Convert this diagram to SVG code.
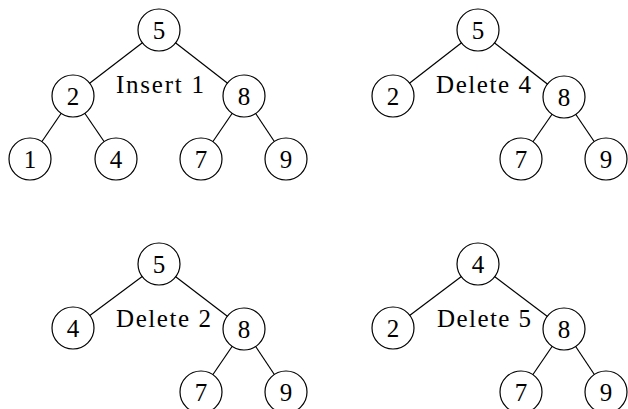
<svg xmlns="http://www.w3.org/2000/svg" width="628" height="409" viewBox="0 0 628 409">
<style>
.n circle{fill:#fff;stroke:#000;stroke-width:1.2}
.n text,.lbl{font-family:"Liberation Serif","Times New Roman",serif;font-size:25px;fill:#000}
.n text{text-anchor:middle}
.lbl{text-anchor:middle}
#edges line{stroke:#000;stroke-width:1.2}
</style>
<rect width="628" height="409" fill="#fff"/>
<g id="edges">
<line x1="159" y1="30" x2="73" y2="96"/>
<line x1="159" y1="30" x2="244" y2="96"/>
<line x1="73" y1="96" x2="30" y2="159"/>
<line x1="73" y1="96" x2="116" y2="159"/>
<line x1="244" y1="96" x2="201" y2="159"/>
<line x1="244" y1="96" x2="286" y2="159"/>
<line x1="478" y1="30" x2="393" y2="96"/>
<line x1="478" y1="30" x2="564" y2="97"/>
<line x1="564" y1="97" x2="521" y2="159"/>
<line x1="564" y1="97" x2="606" y2="159"/>
<line x1="159" y1="264" x2="73" y2="328"/>
<line x1="159" y1="264" x2="244" y2="329"/>
<line x1="244" y1="329" x2="201" y2="392"/>
<line x1="244" y1="329" x2="286" y2="392"/>
<line x1="478" y1="264" x2="393" y2="328"/>
<line x1="478" y1="264" x2="564" y2="329"/>
<line x1="564" y1="329" x2="521" y2="392"/>
<line x1="564" y1="329" x2="606" y2="392"/>
</g>
<g id="t1-5" class="n"><circle cx="159" cy="30" r="21"/><text x="159" y="38.5">5</text></g>
<g id="t1-2" class="n"><circle cx="73" cy="96" r="21"/><text x="73" y="104.5">2</text></g>
<g id="t1-8" class="n"><circle cx="244" cy="96" r="21"/><text x="244" y="104.5">8</text></g>
<g id="t1-1" class="n"><circle cx="30" cy="159" r="21"/><text x="30" y="167.5">1</text></g>
<g id="t1-4" class="n"><circle cx="116" cy="159" r="21"/><text x="116" y="167.5">4</text></g>
<g id="t1-7" class="n"><circle cx="201" cy="159" r="21"/><text x="201" y="167.5">7</text></g>
<g id="t1-9" class="n"><circle cx="286" cy="159" r="21"/><text x="286" y="167.5">9</text></g>
<text class="lbl" x="160" y="93" textLength="88">Insert 1</text>

<g id="t2-5" class="n"><circle cx="478" cy="30" r="21"/><text x="478" y="38.5">5</text></g>
<g id="t2-2" class="n"><circle cx="393" cy="96" r="21"/><text x="393" y="104.5">2</text></g>
<g id="t2-8" class="n"><circle cx="564" cy="97" r="21"/><text x="564" y="105.5">8</text></g>
<g id="t2-7" class="n"><circle cx="521" cy="159" r="21"/><text x="521" y="167.5">7</text></g>
<g id="t2-9" class="n"><circle cx="606" cy="159" r="21"/><text x="606" y="167.5">9</text></g>
<text class="lbl" x="483.5" y="93" textLength="95">Delete 4</text>

<g id="t3-5" class="n"><circle cx="159" cy="264" r="21"/><text x="159" y="272.5">5</text></g>
<g id="t3-4" class="n"><circle cx="73" cy="328" r="21"/><text x="73" y="336.5">4</text></g>
<g id="t3-8" class="n"><circle cx="244" cy="329" r="21"/><text x="244" y="337.5">8</text></g>
<g id="t3-7" class="n"><circle cx="201" cy="392" r="21"/><text x="201" y="400.5">7</text></g>
<g id="t3-9" class="n"><circle cx="286" cy="392" r="21"/><text x="286" y="400.5">9</text></g>
<text class="lbl" x="163.5" y="327" textLength="95">Delete 2</text>

<g id="t4-4" class="n"><circle cx="478" cy="264" r="21"/><text x="478" y="272.5">4</text></g>
<g id="t4-2" class="n"><circle cx="393" cy="328" r="21"/><text x="393" y="336.5">2</text></g>
<g id="t4-8" class="n"><circle cx="564" cy="329" r="21"/><text x="564" y="337.5">8</text></g>
<g id="t4-7" class="n"><circle cx="521" cy="392" r="21"/><text x="521" y="400.5">7</text></g>
<g id="t4-9" class="n"><circle cx="606" cy="392" r="21"/><text x="606" y="400.5">9</text></g>
<text class="lbl" x="484" y="327" textLength="94">Delete 5</text>
</svg>
